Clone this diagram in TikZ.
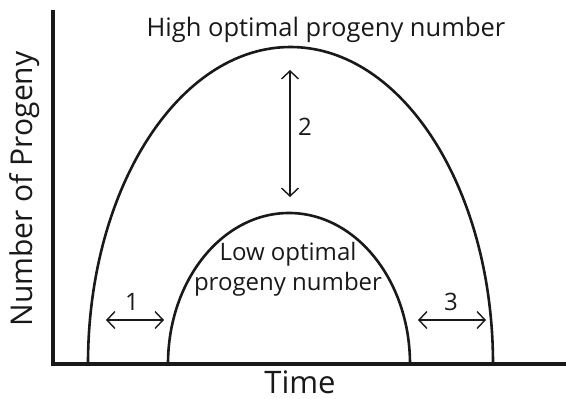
\documentclass[tikz,border=0pt]{standalone}
\usepackage{fontspec}
\setmainfont{Open Sans}
\usetikzlibrary{arrows.meta}
\begin{document}
\begin{tikzpicture}[x=1pt,y=-1pt,
  curve/.style={line width=2.6pt, color=black!90},
  axis/.style={line width=3.5pt, color=black!90},
  dbl/.style={line width=1.4pt, color=black!90, {Straight Barb[length=8pt,width=17pt]}-{Straight Barb[length=8pt,width=17pt]}},
  lbl/.style={font=\fontsize{24}{28}\selectfont, inner sep=0pt, color=black!90},
  num/.style={font=\fontsize{24}{28}\selectfont, inner sep=0pt, color=black!90}]
\useasboundingbox (0,0) rectangle (566,399);
% axes
\coordinate (ytop) at (53,10);
\coordinate (origin) at (53,364);
\coordinate (xend) at (566,364);
\draw[axis] (ytop) -- (origin) -- (xend);
% arches
\draw[curve] (88,364) arc[start angle=180, end angle=360, x radius=202.5, y radius=317];
\draw[curve] (168,364) arc[start angle=180, end angle=360, x radius=121, y radius=151];
% arrows
\coordinate (a2t) at (290,70);
\coordinate (a2b) at (290,197);
\draw[dbl] (a2t) -- (a2b);
\coordinate (a1l) at (106,320);
\coordinate (a1r) at (164,320);
\draw[dbl] (a1l) -- (a1r);
\coordinate (a3l) at (418,320);
\coordinate (a3r) at (486,320);
\draw[dbl] (a3l) -- (a3r);
% labels
\node[lbl, font=\fontsize{25.5}{30}\selectfont] (high) at (326,30) {High optimal progeny number};
\node[lbl, align=center, font=\fontsize{24}{30}\selectfont] (low) at (288,269) {Low optimal\\progeny number};
\node[num] (n2) at (305,127) {2};
\node[num] (n1) at (132,302) {1};
\node[num] (n3) at (451,302) {3};
\node[lbl, font=\fontsize{31}{35}\selectfont, anchor=base] (time) at (300,393) {Time};
\node[lbl, font=\fontsize{30}{34}\selectfont, rotate=90] (ylab) at (25,189) {Number of Progeny};
\end{tikzpicture}
\end{document}
